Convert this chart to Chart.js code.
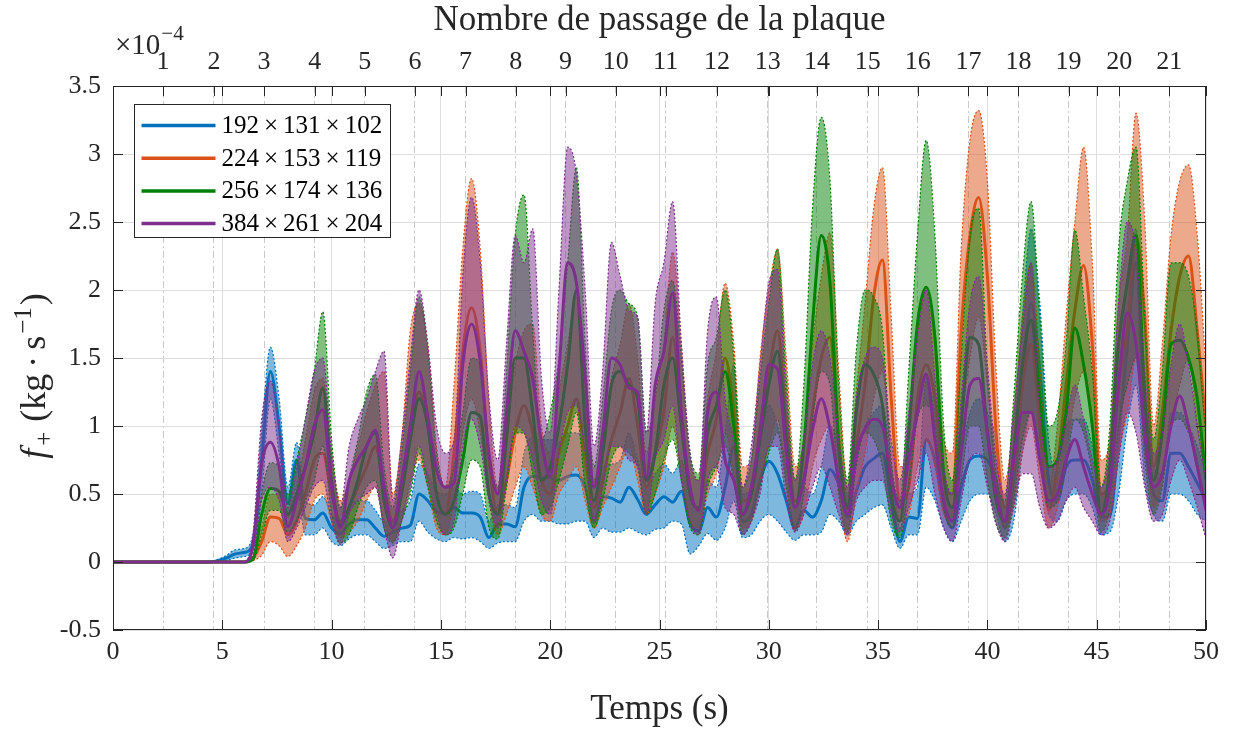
<!DOCTYPE html>
<html>
<head>
<meta charset="utf-8">
<script src="https://cdn.jsdelivr.net/npm/chart.js@4.4.0/dist/chart.umd.min.js"></script>
<style>
  html, body { margin: 0; padding: 0; background: #fff; }
</style>
</head>
<body>
<canvas id="chart" width="1234" height="733"></canvas>
<script>
// time (s)
const time = [
  0, 1, 2, 3, 4,
  4.4, 4.8, 5.2, 5.6, 6.0, 6.4, 6.8, 7.2, 7.6, 8.0,
  8.4, 8.8, 9.2, 9.6, 10.0, 10.4, 10.8, 11.2, 11.6, 12.0,
  12.4, 12.8, 13.2, 13.6, 14.0, 14.4, 14.8, 15.2, 15.6, 16.0,
  16.4, 16.8, 17.2, 17.6, 18.0, 18.4, 18.8, 19.2, 19.6, 20.0,
  20.4, 20.8, 21.2, 21.6, 22.0, 22.4, 22.8, 23.2, 23.6, 24.0,
  24.4, 24.8, 25.2, 25.6, 26.0, 26.4, 26.8, 27.2, 27.6, 28.0,
  28.4, 28.8, 29.2, 29.6, 30.0, 30.4, 30.8, 31.2, 31.6, 32.0,
  32.4, 32.8, 33.2, 33.6, 34.0, 34.4, 34.8, 35.2, 35.6, 36.0,
  36.4, 36.8, 37.2, 37.6, 38.0, 38.4, 38.8, 39.2, 39.6, 40.0,
  40.4, 40.8, 41.2, 41.6, 42.0, 42.4, 42.8, 43.2, 43.6, 44.0,
  44.4, 44.8, 45.2, 45.6, 46.0, 46.4, 46.8, 47.2, 47.6, 48.0,
  48.4, 48.8, 49.2, 49.6, 50.0
];

// plate passages (top axis)
const passTimes = [2.29, 4.62, 6.91, 9.23, 11.52, 13.81, 16.13, 18.42, 20.70, 23.00, 25.28,
  27.63, 29.95, 32.20, 34.53, 36.81, 39.13, 41.42, 43.71, 46.03, 48.32];
const passLabels = ['1', '2', '3', '4', '5', '6', '7', '8', '9', '10', '11',
  '12', '13', '14', '15', '16', '17', '18', '19', '20', '21'];

const seriesLabels = ['192×131×102', '224×153×119', '256×174×136', '384×261×204'];
const seriesColors = ['0,114,189', '217,83,25', '0,128,0', '126,47,142'];

// f+ values, x1e-4
const blueMean = [
  0, 0, 0, 0, 0,
  0, 0.01, 0.03, 0.06, 0.07, 0.13, 0.75, 1.40, 1.00, 0.43,
  0.75, 0.32, 0.31, 0.36, 0.25, 0.21, 0.28, 0.31, 0.31, 0.25,
  0.19, 0.22, 0.25, 0.27, 0.50, 0.45, 0.37, 0.36, 0.40, 0.36,
  0.36, 0.33, 0.18, 0.28, 0.28, 0.26, 0.55, 0.63, 0.62, 0.62,
  0.60, 0.63, 0.64, 0.55, 0.29, 0.48, 0.47, 0.44, 0.55, 0.46,
  0.35, 0.42, 0.48, 0.44, 0.52, 0.28, 0.23, 0.40, 0.33, 0.55,
  0.85, 0.30, 0.35, 0.60, 0.74, 0.65, 0.45, 0.25, 0.38, 0.33,
  0.45, 0.68, 0.57, 0.33, 0.52, 0.70, 0.76, 0.80, 0.45, 0.15,
  0.33, 0.32, 0.90, 0.75, 0.40, 0.25, 0.55, 0.75, 0.78, 0.75,
  0.60, 0.25, 0.60, 1.30, 1.90, 1.40, 0.60, 0.45, 0.70, 0.75,
  0.75, 0.60, 0.33, 0.34, 0.90, 1.60, 2.20, 0.95, 0.50, 0.45,
  0.80, 0.80, 0.70, 0.58, 0.45
];
const blueLow = [
  0, 0, 0, 0, 0,
  0, 0, 0.01, 0.03, 0.04, 0.08, 0.50, 1.20, 0.80, 0.33,
  0.55, 0.20, 0.20, 0.25, 0.15, 0.12, 0.17, 0.20, 0.20, 0.15,
  0.10, 0.12, 0.15, 0.15, 0.30, 0.22, 0.17, 0.15, 0.18, 0.17,
  0.18, 0.15, 0.10, 0.14, 0.15, 0.15, 0.30, 0.35, 0.30, 0.30,
  0.28, 0.28, 0.30, 0.30, 0.18, 0.25, 0.22, 0.22, 0.25, 0.22,
  0.20, 0.24, 0.25, 0.30, 0.28, 0.06, 0.12, 0.21, 0.16, 0.25,
  0.45, 0.18, 0.20, 0.30, 0.35, 0.30, 0.22, 0.16, 0.20, 0.20,
  0.22, 0.35, 0.30, 0.20, 0.30, 0.35, 0.40, 0.42, 0.25, 0.10,
  0.20, 0.20, 0.55, 0.45, 0.25, 0.15, 0.30, 0.45, 0.50, 0.50,
  0.35, 0.15, 0.30, 0.80, 1.10, 0.80, 0.35, 0.30, 0.45, 0.50,
  0.50, 0.40, 0.20, 0.22, 0.50, 1.00, 1.30, 0.60, 0.35, 0.30,
  0.50, 0.50, 0.45, 0.35, 0.30
];
const blueHigh = [
  0, 0, 0, 0, 0,
  0, 0.02, 0.05, 0.09, 0.10, 0.20, 0.95, 1.58, 1.20, 0.55,
  0.88, 0.45, 0.42, 0.48, 0.35, 0.30, 0.40, 0.45, 0.45, 0.38,
  0.30, 0.32, 0.38, 0.45, 0.72, 0.65, 0.52, 0.50, 0.55, 0.50,
  0.52, 0.50, 0.30, 0.42, 0.42, 0.40, 0.80, 0.92, 0.90, 0.90,
  0.88, 0.95, 0.95, 0.85, 0.45, 0.70, 0.72, 0.75, 0.95, 0.75,
  0.55, 0.65, 0.72, 0.65, 0.75, 0.45, 0.38, 0.60, 0.55, 0.95,
  1.45, 0.50, 0.55, 0.90, 1.15, 1.00, 0.70, 0.40, 0.55, 0.50,
  0.70, 1.00, 0.85, 0.50, 0.75, 1.00, 1.10, 1.15, 0.70, 0.25,
  0.50, 0.55, 1.35, 1.10, 0.60, 0.40, 0.80, 1.10, 1.20, 1.10,
  0.90, 0.40, 0.90, 1.80, 2.45, 1.90, 0.90, 0.65, 1.00, 1.05,
  1.05, 0.85, 0.50, 0.50, 1.30, 2.10, 2.45, 1.30, 0.70, 0.65,
  1.10, 1.10, 1.00, 0.85, 0.65
];

const orangeMean = [
  0, 0, 0, 0, 0,
  0, 0, 0, 0, 0, 0.03, 0.15, 0.33, 0.32, 0.20,
  0.30, 0.50, 0.75, 0.80, 0.50, 0.30, 0.40, 0.55, 0.70, 0.85,
  0.55, 0.30, 0.55, 1.00, 1.25, 1.00, 0.50, 0.35, 0.80, 1.55,
  1.87, 1.55, 0.75, 0.35, 0.60, 0.95, 1.15, 0.95, 0.60, 0.50,
  0.80, 1.00, 1.20, 0.75, 0.40, 0.60, 0.90, 1.10, 1.35, 1.00,
  0.55, 0.80, 1.10, 1.65, 1.10, 0.50, 0.40, 0.80, 1.05, 1.50,
  1.10, 0.45, 0.50, 1.00, 1.40, 1.70, 1.00, 0.45, 0.60, 1.10,
  1.50, 1.65, 0.90, 0.35, 0.85, 1.30, 1.95, 2.22, 1.20, 0.45,
  0.55, 1.20, 1.45, 1.20, 0.60, 0.50, 1.70, 2.40, 2.68, 2.10,
  0.95, 0.40, 0.70, 1.30, 1.60, 1.00, 0.38, 0.70, 1.30, 1.85,
  2.18, 1.60, 0.50, 0.60, 1.30, 1.70, 2.40, 1.80, 0.70, 1.10,
  1.70, 2.10, 2.25, 1.70, 1.00
];
const orangeLow = [
  0, 0, 0, 0, 0,
  0, 0, 0, 0, 0, 0.01, 0.05, 0.15, 0.12, 0.04,
  0.12, 0.25, 0.45, 0.50, 0.30, 0.18, 0.22, 0.30, 0.45, 0.55,
  0.30, 0.15, 0.30, 0.60, 0.75, 0.55, 0.25, 0.20, 0.45, 0.95,
  1.20, 0.95, 0.45, 0.20, 0.35, 0.55, 0.70, 0.55, 0.35, 0.30,
  0.50, 0.60, 0.70, 0.45, 0.25, 0.40, 0.55, 0.70, 0.85, 0.60,
  0.35, 0.50, 0.70, 1.00, 0.65, 0.30, 0.25, 0.50, 0.65, 0.95,
  0.65, 0.25, 0.30, 0.60, 0.85, 1.05, 0.60, 0.25, 0.35, 0.70,
  0.90, 1.00, 0.50, 0.15, 0.50, 0.80, 1.20, 1.40, 0.70, 0.30,
  0.35, 0.70, 0.90, 0.70, 0.35, 0.30, 1.00, 1.50, 1.80, 1.30,
  0.55, 0.25, 0.40, 0.80, 1.00, 0.60, 0.25, 0.40, 0.80, 1.20,
  1.40, 1.00, 0.30, 0.35, 0.80, 1.10, 1.50, 1.10, 0.40, 0.60,
  1.00, 1.30, 1.50, 1.00, 0.60
];
const orangeHigh = [
  0, 0, 0, 0, 0,
  0, 0, 0, 0, 0, 0.05, 0.25, 0.50, 0.50, 0.35,
  0.55, 0.90, 1.25, 1.35, 0.80, 0.45, 0.60, 0.85, 1.10, 1.30,
  1.40, 0.50, 0.90, 1.70, 1.90, 1.60, 0.85, 0.55, 1.30, 2.30,
  2.82, 2.30, 1.15, 0.55, 0.95, 1.45, 1.70, 1.75, 1.00, 0.80,
  1.25, 1.60, 1.95, 1.20, 0.60, 0.90, 1.35, 1.60, 1.90, 1.50,
  0.80, 1.20, 1.60, 2.28, 1.60, 0.75, 0.60, 1.20, 1.55, 2.05,
  1.60, 0.70, 0.75, 1.50, 2.00, 2.30, 1.50, 0.70, 0.90, 1.60,
  2.10, 2.42, 1.40, 0.55, 1.25, 1.90, 2.60, 2.90, 1.80, 0.70,
  0.85, 1.70, 2.00, 1.70, 0.90, 0.80, 2.30, 3.10, 3.32, 2.80,
  1.40, 0.60, 1.05, 1.80, 2.20, 1.45, 0.55, 1.00, 1.80, 2.50,
  3.05, 2.20, 0.75, 0.90, 1.90, 2.40, 3.30, 2.50, 1.00, 1.60,
  2.40, 2.80, 2.92, 2.40, 1.40
];

const greenMean = [
  0, 0, 0, 0, 0,
  0, 0, 0, 0, 0, 0.02, 0.35, 0.54, 0.52, 0.35,
  0.50, 0.70, 0.95, 1.28, 0.60, 0.27, 0.40, 0.60, 0.85, 0.95,
  0.45, 0.25, 0.50, 0.90, 1.20, 1.00, 0.50, 0.35, 0.45, 0.75,
  1.10, 1.07, 0.50, 0.35, 0.90, 1.50, 1.50, 1.10, 0.60, 0.70,
  1.00, 1.45, 2.00, 1.00, 0.45, 0.80, 1.30, 1.40, 1.30, 1.20,
  0.60, 0.80, 1.30, 1.50, 1.00, 0.50, 0.40, 0.95, 1.15, 1.40,
  1.00, 0.35, 0.50, 0.90, 1.30, 1.55, 0.90, 0.40, 0.85, 1.75,
  2.40, 2.05, 0.85, 0.40, 1.10, 1.45, 1.38, 1.15, 0.50, 0.30,
  0.95, 1.75, 2.02, 1.65, 0.65, 0.40, 1.00, 1.65, 1.60, 0.95,
  0.45, 0.30, 0.80, 1.45, 1.78, 1.20, 0.70, 0.75, 1.10, 1.72,
  1.45, 1.00, 0.36, 0.70, 1.60, 2.05, 2.40, 1.20, 0.60, 0.95,
  1.60, 1.63, 1.50, 1.20, 0.60
];
const greenLow = [
  0, 0, 0, 0, 0,
  0, 0, 0, 0, 0, 0.01, 0.20, 0.38, 0.38, 0.22,
  0.30, 0.45, 0.60, 0.85, 0.35, 0.14, 0.20, 0.40, 0.55, 0.60,
  0.25, 0.14, 0.30, 0.50, 0.80, 0.55, 0.30, 0.20, 0.25, 0.50,
  0.75, 0.70, 0.25, 0.17, 0.55, 0.95, 0.95, 0.65, 0.35, 0.40,
  0.60, 0.85, 1.10, 0.55, 0.25, 0.45, 0.75, 0.85, 0.80, 0.70,
  0.35, 0.50, 0.75, 0.90, 0.60, 0.25, 0.20, 0.55, 0.70, 0.85,
  0.60, 0.20, 0.30, 0.55, 0.80, 0.95, 0.55, 0.23, 0.50, 1.05,
  1.40, 1.30, 0.50, 0.22, 0.70, 0.95, 0.90, 0.70, 0.30, 0.18,
  0.55, 1.05, 1.15, 1.00, 0.40, 0.25, 0.60, 1.00, 1.00, 0.60,
  0.28, 0.18, 0.45, 0.90, 1.10, 0.75, 0.40, 0.45, 0.70, 1.05,
  0.95, 0.65, 0.22, 0.40, 1.00, 1.30, 1.50, 0.75, 0.35, 0.55,
  1.00, 1.05, 0.95, 0.75, 0.35
];
const greenHigh = [
  0, 0, 0, 0, 0,
  0, 0, 0, 0, 0, 0.04, 0.50, 0.73, 0.70, 0.50,
  0.75, 1.05, 1.40, 1.84, 0.90, 0.40, 0.62, 0.90, 1.25, 1.38,
  0.70, 0.40, 0.80, 1.40, 1.95, 1.55, 0.80, 0.55, 0.70, 1.10,
  1.50, 1.45, 0.80, 0.55, 1.40, 2.40, 2.70, 1.70, 0.90, 1.10,
  1.50, 2.20, 2.90, 1.60, 0.70, 1.20, 1.85, 2.00, 1.90, 1.80,
  0.95, 1.20, 1.85, 2.07, 1.50, 0.80, 0.65, 1.45, 1.65, 2.00,
  1.50, 0.55, 0.75, 1.35, 1.90, 2.30, 1.35, 0.60, 1.30, 2.60,
  3.27, 2.80, 1.30, 0.60, 1.55, 2.00, 1.95, 1.70, 0.75, 0.45,
  1.40, 2.40, 3.10, 2.40, 1.00, 0.60, 1.50, 2.40, 2.60, 1.40,
  0.65, 0.45, 1.20, 2.10, 2.65, 1.80, 1.00, 1.10, 1.60, 2.44,
  1.95, 1.40, 0.55, 1.00, 2.30, 2.80, 3.05, 1.80, 0.90, 1.40,
  2.20, 2.20, 2.10, 1.70, 0.90
];

const purpleMean = [
  0, 0, 0, 0, 0,
  0, 0, 0, 0, 0, 0.12, 0.72, 0.88, 0.70, 0.26,
  0.45, 0.70, 1.00, 1.12, 0.55, 0.25, 0.60, 0.75, 0.85, 0.97,
  0.55, 0.25, 0.60, 1.00, 1.40, 1.07, 0.68, 0.55, 0.58, 1.45,
  1.75, 1.47, 0.80, 0.50, 1.10, 1.70, 1.55, 1.35, 0.88, 0.63,
  1.40, 2.20, 2.05, 1.37, 0.55, 0.95, 1.50, 1.45, 1.28, 1.25,
  0.62, 1.30, 1.55, 1.98, 1.10, 0.55, 0.38, 1.10, 1.25, 0.75,
  0.60, 0.35, 0.55, 0.95, 1.45, 1.42, 0.80, 0.40, 0.60, 0.97,
  1.20, 0.98, 0.60, 0.35, 0.80, 0.98, 1.05, 1.00, 0.60, 0.40,
  0.75, 1.10, 1.38, 0.90, 0.45, 0.30, 0.80, 1.30, 1.35, 0.95,
  0.50, 0.30, 0.75, 1.10, 1.10, 0.75, 0.45, 0.50, 0.75, 0.90,
  0.70, 0.50, 0.35, 0.55, 1.30, 1.83, 1.60, 0.95, 0.55, 0.65,
  1.00, 1.22, 1.00, 0.70, 0.38
];
const purpleLow = [
  0, 0, 0, 0, 0,
  0, 0, 0, 0, 0, 0.06, 0.45, 0.55, 0.45, 0.15,
  0.25, 0.40, 0.55, 0.60, 0.30, 0.13, 0.35, 0.45, 0.50, 0.55,
  0.25, 0.03, 0.30, 0.55, 0.85, 0.60, 0.35, 0.20, 0.30, 0.85,
  1.05, 0.85, 0.45, 0.25, 0.60, 1.00, 0.95, 0.75, 0.45, 0.35,
  0.80, 1.10, 1.15, 0.80, 0.30, 0.55, 0.85, 0.85, 0.75, 0.70,
  0.35, 0.75, 0.90, 1.15, 0.60, 0.30, 0.20, 0.60, 0.70, 0.40,
  0.35, 0.20, 0.30, 0.50, 0.85, 0.85, 0.45, 0.22, 0.35, 0.55,
  0.70, 0.55, 0.35, 0.20, 0.45, 0.55, 0.60, 0.60, 0.35, 0.22,
  0.40, 0.60, 0.80, 0.50, 0.25, 0.15, 0.45, 0.75, 0.80, 0.55,
  0.28, 0.15, 0.40, 0.65, 0.65, 0.40, 0.25, 0.30, 0.45, 0.55,
  0.40, 0.30, 0.20, 0.30, 0.75, 1.10, 0.95, 0.55, 0.30, 0.35,
  0.60, 0.75, 0.60, 0.40, 0.17
];
const purpleHigh = [
  0, 0, 0, 0, 0,
  0, 0, 0, 0, 0, 0.20, 1.05, 1.33, 1.00, 0.40,
  0.70, 1.05, 1.40, 1.50, 0.80, 0.40, 0.85, 1.05, 1.20, 1.40,
  1.55, 0.45, 0.90, 1.50, 2.00, 1.60, 1.00, 0.80, 0.90, 2.10,
  2.68, 2.20, 1.20, 0.75, 1.60, 2.40, 2.20, 2.45, 1.35, 0.95,
  2.00, 3.05, 2.85, 2.00, 0.85, 1.40, 2.35, 2.10, 1.85, 1.80,
  0.95, 1.90, 2.20, 2.65, 1.60, 0.80, 0.60, 1.70, 1.95, 1.20,
  0.90, 0.55, 0.85, 1.45, 2.05, 2.15, 1.20, 0.60, 0.90, 1.45,
  1.70, 1.50, 0.90, 0.55, 1.20, 1.50, 1.58, 1.50, 0.90, 0.60,
  1.10, 1.65, 2.00, 1.35, 0.70, 0.50, 1.20, 1.90, 2.10, 1.45,
  0.75, 0.50, 1.10, 1.70, 2.20, 1.10, 0.70, 0.75, 1.05, 1.30,
  1.05, 0.75, 0.55, 0.85, 1.90, 2.50, 2.30, 1.40, 0.80, 0.95,
  1.45, 1.75, 1.45, 1.00, 0.60
];

const series = [
  { mean: blueMean, low: blueLow, high: blueHigh },
  { mean: orangeMean, low: orangeLow, high: orangeHigh },
  { mean: greenMean, low: greenLow, high: greenHigh },
  { mean: purpleMean, low: purpleLow, high: purpleHigh }
];

const fontFamily = '"Liberation Serif", "DejaVu Serif", serif';
const textColor = '#262626';

function points(values) {
  return time.map((t, i) => ({ x: t, y: values[i] }));
}

// datasets: band low, band high (filled to low), mean line; blue drawn first
const datasets = [];
let order = 100;
series.forEach((s, k) => {
  const rgb = seriesColors[k];
  const common = { pointRadius: 0, pointHitRadius: 0, cubicInterpolationMode: 'monotone' };
  datasets.push(Object.assign({
    label: seriesLabels[k] + ' min', data: points(s.low),
    borderColor: 'rgb(' + rgb + ')', borderWidth: 1.2, borderDash: [2, 2],
    fill: false, order: order--
  }, common));
  datasets.push(Object.assign({
    label: seriesLabels[k] + ' max', data: points(s.high),
    borderColor: 'rgb(' + rgb + ')', borderWidth: 1.2, borderDash: [2, 2],
    backgroundColor: 'rgba(' + rgb + ',0.5)', fill: '-1', order: order--
  }, common));
  datasets.push(Object.assign({
    label: seriesLabels[k], data: points(s.mean),
    borderColor: 'rgb(' + rgb + ')', borderWidth: 3,
    fill: false, order: order--
  }, common));
});

// box around the axes with inward ticks
const frameTicks = {
  id: 'frameTicks',
  afterDatasetsDraw(chart) {
    const { ctx, chartArea: a, scales } = chart;
    const len = 10;
    ctx.save();
    ctx.strokeStyle = textColor;
    ctx.lineWidth = 1;
    ctx.beginPath();
    scales.x.ticks.forEach(tk => {
      const px = Math.round(scales.x.getPixelForValue(tk.value)) + 0.5;
      ctx.moveTo(px, a.bottom); ctx.lineTo(px, a.bottom - len);
      ctx.moveTo(px, a.top); ctx.lineTo(px, a.top + len);
    });
    scales.x2.ticks.forEach(tk => {
      const px = Math.round(scales.x2.getPixelForValue(tk.value)) + 0.5;
      ctx.moveTo(px, a.top); ctx.lineTo(px, a.top + len);
    });
    scales.y.ticks.forEach(tk => {
      const py = Math.round(scales.y.getPixelForValue(tk.value)) + 0.5;
      ctx.moveTo(a.left, py); ctx.lineTo(a.left + len, py);
      ctx.moveTo(a.right, py); ctx.lineTo(a.right - len, py);
    });
    ctx.stroke();
    ctx.strokeRect(Math.round(a.left) + 0.5, Math.round(a.top) + 0.5,
      Math.round(a.width) - 1, Math.round(a.height) - 1);
    ctx.restore();
  }
};

// legend box in the upper left corner (math-style spacing around ×)
const legendBox = {
  id: 'legendBox',
  afterDraw(chart) {
    const { ctx, chartArea: a } = chart;
    const left = Math.round(a.left) + 21.5;
    const top = Math.round(a.top) + 18.5;
    ctx.save();
    ctx.fillStyle = '#fff';
    ctx.fillRect(left, top, 256, 133);
    ctx.strokeStyle = textColor;
    ctx.lineWidth = 1;
    ctx.strokeRect(left, top, 256, 133);
    ctx.font = '25px ' + fontFamily;
    ctx.textBaseline = 'middle';
    seriesLabels.forEach((label, k) => {
      const y = top + 21 + k * 32.7;
      ctx.strokeStyle = 'rgb(' + seriesColors[k] + ')';
      ctx.lineWidth = 3.5;
      ctx.beginPath();
      ctx.moveTo(left + 7, y);
      ctx.lineTo(left + 81, y);
      ctx.stroke();
      ctx.fillStyle = '#000';
      let x = left + 87;
      label.split('×').forEach((part, i) => {
        if (i > 0) {
          x += 5;
          ctx.fillText('×', x, y + 1);
          x += ctx.measureText('×').width + 5;
        }
        ctx.fillText(part, x, y + 1);
        x += ctx.measureText(part).width;
      });
    });
    ctx.restore();
  }
};

// exponent label and y axis title (with sub/superscripts)
const extraText = {
  id: 'extraText',
  afterDraw(chart) {
    const { ctx, chartArea: a } = chart;
    ctx.save();
    ctx.fillStyle = textColor;
    ctx.textBaseline = 'alphabetic';
    ctx.font = '29px ' + fontFamily;
    ctx.fillText('×10', a.left + 2, 54);
    const w = ctx.measureText('×10').width;
    ctx.font = '21px ' + fontFamily;
    ctx.fillText('−4', a.left + 3 + w, 40);

    const parts = [
      { text: 'f', font: 'italic 36px ' + fontFamily, dy: 0, gap: 3 },
      { text: '+', font: '25px ' + fontFamily, dy: 7, gap: 10 },
      { text: '(kg', font: '36px ' + fontFamily, dy: 0, gap: 6 },
      { text: '·', font: '36px ' + fontFamily, dy: 0, gap: 6 },
      { text: 's', font: '36px ' + fontFamily, dy: 0, gap: 2 },
      { text: '−1', font: '25px ' + fontFamily, dy: -14, gap: 2 },
      { text: ')', font: '36px ' + fontFamily, dy: 0, gap: 0 }
    ];
    let total = 0;
    parts.forEach(p => { ctx.font = p.font; p.w = ctx.measureText(p.text).width; total += p.w + p.gap; });
    ctx.translate(45, 376);
    ctx.rotate(-Math.PI / 2);
    let x = -total / 2;
    parts.forEach(p => {
      ctx.font = p.font;
      ctx.fillText(p.text, x, p.dy);
      x += p.w + p.gap;
    });
    ctx.restore();
  }
};

const tickFont = { family: fontFamily, size: 26 };
const titleFont = { family: fontFamily, size: 35 };

new Chart(document.getElementById('chart').getContext('2d'), {
  type: 'line',
  data: { datasets: datasets },
  options: {
    responsive: false,
    animation: false,
    devicePixelRatio: 1,
    layout: { padding: { left: 0, right: 28, top: 0, bottom: 0 } },
    plugins: {
      legend: { display: false },
      tooltip: { enabled: false }
    },
    scales: {
      x: {
        type: 'linear', position: 'bottom', min: 0, max: 50,
        ticks: { stepSize: 5, color: textColor, font: tickFont, padding: 7, maxRotation: 0, autoSkip: false },
        grid: { color: '#dedede', lineWidth: 1, drawTicks: false },
        border: { display: false },
        title: { display: true, text: 'Temps (s)', color: textColor, font: titleFont, padding: { top: 0, bottom: 2 } },
        afterFit: scale => { scale.height = 103; }
      },
      x2: {
        type: 'linear', position: 'top', min: 0, max: 50,
        afterBuildTicks: scale => { scale.ticks = passTimes.map(v => ({ value: v })); },
        ticks: {
          callback: (value, index) => passLabels[index],
          color: textColor, font: tickFont, padding: 8, maxRotation: 0, autoSkip: false
        },
        grid: { color: '#c9c9c9', lineWidth: 1, drawTicks: false },
        border: { display: false, dash: [7, 3, 2, 3] },
        title: { display: true, text: 'Nombre de passage de la plaque', color: textColor, font: titleFont, padding: { top: 0, bottom: 0 } },
        afterFit: scale => { scale.height = 86; }
      },
      y: {
        type: 'linear', position: 'left', min: -0.5, max: 3.5,
        ticks: { stepSize: 0.5, color: textColor, font: tickFont, padding: 12, callback: v => String(v) },
        grid: { color: '#dedede', lineWidth: 1, drawTicks: false },
        border: { display: false },
        afterFit: scale => { scale.width = 113; }
      }
    }
  },
  plugins: [frameTicks, legendBox, extraText]
});
</script>
</body>
</html>
